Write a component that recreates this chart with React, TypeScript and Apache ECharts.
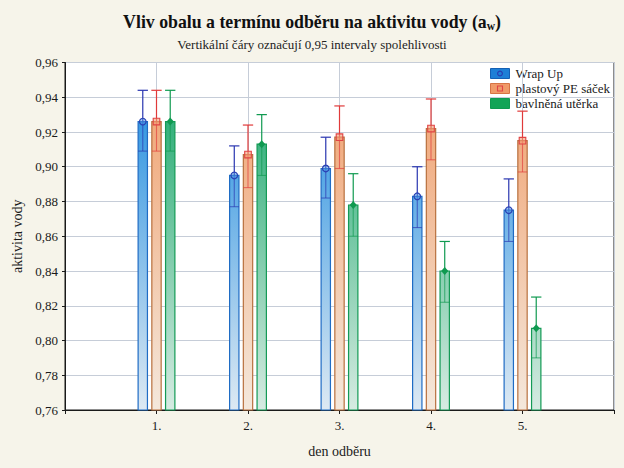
import React, { useEffect, useRef } from "react";
import * as echarts from "echarts";

// ---- data ----
const days = [1, 2, 3, 4, 5];
const dayLabels = ["1.", "2.", "3.", "4.", "5."];
const seriesNames = ["Wrap Up", "plastový PE sáček", "bavlněná utěrka"];

const wrapMean = [0.926, 0.895, 0.899, 0.883, 0.875];
const wrapLower = [0.909, 0.877, 0.882, 0.865, 0.857];
const wrapUpper = [0.944, 0.912, 0.917, 0.900, 0.893];

const peMean = [0.926, 0.907, 0.917, 0.922, 0.915];
const peLower = [0.909, 0.888, 0.899, 0.904, 0.897];
const peUpper = [0.944, 0.924, 0.935, 0.939, 0.932];

const cottonMean = [0.926, 0.913, 0.878, 0.840, 0.807];
const cottonLower = [0.909, 0.895, 0.860, 0.822, 0.790];
const cottonUpper = [0.944, 0.930, 0.896, 0.857, 0.825];

const yMin = 0.76;
const yMax = 0.96;
const yStep = 0.02;

// ---- styles ----
const FONT = '"Liberation Serif", "Times New Roman", serif';
const offsets = [-0.15, 0, 0.15];
const barW = 0.102;
const gradTop = ["#1688de", "#f09c68", "#12a466"];
const gradBottom = ["#dde9f3", "#f4e8dc", "#d6ebe2"];
const barBorder = ["#1f6cc4", "#b8703e", "#139a55"];
const errColor = ["#2a36b0", "#e03a3a", "#0f9a50"];
const legendFill = ["#1e7fd6", "#f09a68", "#11a456"];
const legendBorder = ["#1460b4", "#d67444", "#0e9a50"];

function makeRender(k: number) {
  return (params: any, api: any) => {
    const x = api.value(0);
    const m = api.value(1);
    const lo = api.value(2);
    const hi = api.value(3);
    const unit = api.size([1, 0])[0];
    const cs = params.coordSys;
    const p = api.coord([x, m]);
    const cx = p[0] + offsets[k] * unit;
    const yTop = p[1];
    const yBase = cs.y + cs.height;
    const yLo = api.coord([x, lo])[1];
    const yHi = api.coord([x, hi])[1];
    const w = barW * unit;
    const grad = new echarts.graphic.LinearGradient(
      0, cs.y, 0, yBase,
      [
        { offset: 0, color: gradTop[k] },
        { offset: 1, color: gradBottom[k] },
      ],
      true
    );
    let marker: any;
    if (k === 0) {
      marker = {
        type: "circle",
        shape: { cx, cy: yTop, r: 3.3 },
        style: { fill: "rgba(80,150,230,0.5)", stroke: "#2a40b4", lineWidth: 1.2 },
      };
    } else if (k === 1) {
      marker = {
        type: "rect",
        shape: { x: cx - 3.3, y: yTop - 3.3, width: 6.6, height: 6.6 },
        style: { fill: "rgba(244,160,120,0.6)", stroke: "#e04444", lineWidth: 1.1 },
      };
    } else {
      marker = {
        type: "polygon",
        shape: { points: [[cx, yTop - 4], [cx + 3.6, yTop], [cx, yTop + 4], [cx - 3.6, yTop]] },
        style: { fill: "#0f9a50" },
      };
    }
    return {
      type: "group",
      children: [
        {
          type: "rect",
          shape: { x: cx - w / 2, y: yTop, width: w, height: yBase - yTop },
          style: { fill: grad, stroke: barBorder[k], lineWidth: 1.2 },
        },
        {
          type: "line",
          shape: { x1: cx, y1: yTop, x2: cx, y2: yLo },
          style: { stroke: errColor[k], lineWidth: 1.1, opacity: 0.65 },
        },
        {
          type: "line",
          shape: { x1: cx - w / 2, y1: yLo, x2: cx + w / 2, y2: yLo },
          style: { stroke: errColor[k], lineWidth: 1.1, opacity: 0.65 },
        },
        {
          type: "line",
          shape: { x1: cx, y1: yHi, x2: cx, y2: yTop },
          style: { stroke: errColor[k], lineWidth: 1.2 },
        },
        {
          type: "line",
          shape: { x1: cx - w / 2 - 0.5, y1: yHi, x2: cx + w / 2 + 0.5, y2: yHi },
          style: { stroke: errColor[k], lineWidth: 1.2 },
        },
        marker,
      ],
    };
  };
}

function buildData(mean: number[], lower: number[], upper: number[]) {
  return days.map((d, i) => [d, mean[i], lower[i], upper[i]]);
}

export default function App() {
  const ref = useRef<HTMLDivElement>(null);

  useEffect(() => {
    if (!ref.current) return;
    const chart = echarts.init(ref.current, undefined, { renderer: "svg" });

    const groups = [
      buildData(wrapMean, wrapLower, wrapUpper),
      buildData(peMean, peLower, peUpper),
      buildData(cottonMean, cottonLower, cottonUpper),
    ];

    const legendChildren: any[] = [];
    seriesNames.forEach((name, i) => {
      const y = i * 15;
      legendChildren.push({
        type: "rect",
        shape: { x: 0, y, width: 19, height: 10 },
        style: { fill: legendFill[i], stroke: legendBorder[i], lineWidth: 1 },
      });
      if (i === 0) {
        legendChildren.push({
          type: "circle",
          shape: { cx: 9.5, cy: y + 5, r: 2.4 },
          style: { fill: "none", stroke: "#2a3cb0", lineWidth: 1.1 },
        });
      } else if (i === 1) {
        legendChildren.push({
          type: "rect",
          shape: { x: 7, y: y + 2.5, width: 5, height: 5 },
          style: { fill: "none", stroke: "#e04444", lineWidth: 1.1 },
        });
      }
      legendChildren.push({
        type: "text",
        x: 25,
        y: y + 5,
        style: {
          text: name,
          fontFamily: FONT,
          fontSize: 13,
          fill: "#1a1a1a",
          verticalAlign: "middle",
          align: "left",
        },
      });
    });

    chart.setOption({
      animation: false,
      backgroundColor: "#f6f4ea",
      title: [
        {
          text: "Vliv obalu a termínu odběru na aktivitu vody (a{sub|w})",
          left: "center",
          top: 6,
          textStyle: {
            fontFamily: FONT,
            fontSize: 17.8,
            fontWeight: "bold",
            color: "#111",
            rich: {
              sub: {
                fontFamily: FONT,
                fontSize: 11.5,
                fontWeight: "bold",
                color: "#111",
                padding: [9, 0, 0, 0],
              },
            },
          },
        },
        {
          text: "Vertikální čáry označují 0,95 intervaly spolehlivosti",
          left: "center",
          top: 33,
          textStyle: {
            fontFamily: FONT,
            fontSize: 13,
            fontWeight: "normal",
            color: "#222",
          },
        },
      ],
      grid: {
        left: 65,
        right: 10,
        top: 62.5,
        bottom: 58,
        show: true,
        backgroundColor: "#ffffff",
        borderColor: "#1a1a1a",
        borderWidth: 1,
      },
      xAxis: {
        type: "value",
        min: 0,
        max: 6,
        interval: 1,
        name: "den odběru",
        nameLocation: "middle",
        nameGap: 34,
        nameTextStyle: { fontFamily: FONT, fontSize: 14, color: "#1a1a1a" },
        axisLine: { show: true, lineStyle: { color: "#1a1a1a", width: 1 } },
        axisTick: { show: true, length: 4, lineStyle: { color: "#1a1a1a" } },
        axisLabel: {
          margin: 9,
          fontFamily: FONT,
          fontSize: 13,
          color: "#1a1a1a",
          formatter: (v: number) => {
            const idx = days.indexOf(Math.round(v));
            return idx >= 0 ? dayLabels[idx] : "";
          },
        },
        splitLine: { show: true, lineStyle: { color: "#c6cdd8", width: 1 } },
      },
      yAxis: {
        type: "value",
        min: yMin,
        max: yMax,
        interval: yStep,
        name: "aktivita vody",
        nameLocation: "middle",
        nameRotate: 90,
        nameGap: 38,
        nameTextStyle: { fontFamily: FONT, fontSize: 14, color: "#1a1a1a" },
        axisLine: { show: true, lineStyle: { color: "#1a1a1a", width: 1 } },
        axisTick: { show: true, length: 3, lineStyle: { color: "#1a1a1a" } },
        axisLabel: {
          margin: 7,
          fontFamily: FONT,
          fontSize: 13,
          color: "#1a1a1a",
          formatter: (v: number) => v.toFixed(2).replace(".", ","),
        },
        splitLine: { show: true, lineStyle: { color: "#c6cdd8", width: 1 } },
      },
      series: groups.map((data, k) => ({
        type: "custom",
        name: seriesNames[k],
        renderItem: makeRender(k),
        data,
        encode: { x: 0, y: 1 },
        z: 2,
      })),
      graphic: [
        {
          type: "group",
          left: 490,
          top: 67,
          children: legendChildren,
        },
      ],
    });

    return () => chart.dispose();
  }, []);

  return (
    <div
      ref={ref}
      style={{ position: "fixed", left: 0, top: 0, width: 624, height: 468 }}
    />
  );
}
